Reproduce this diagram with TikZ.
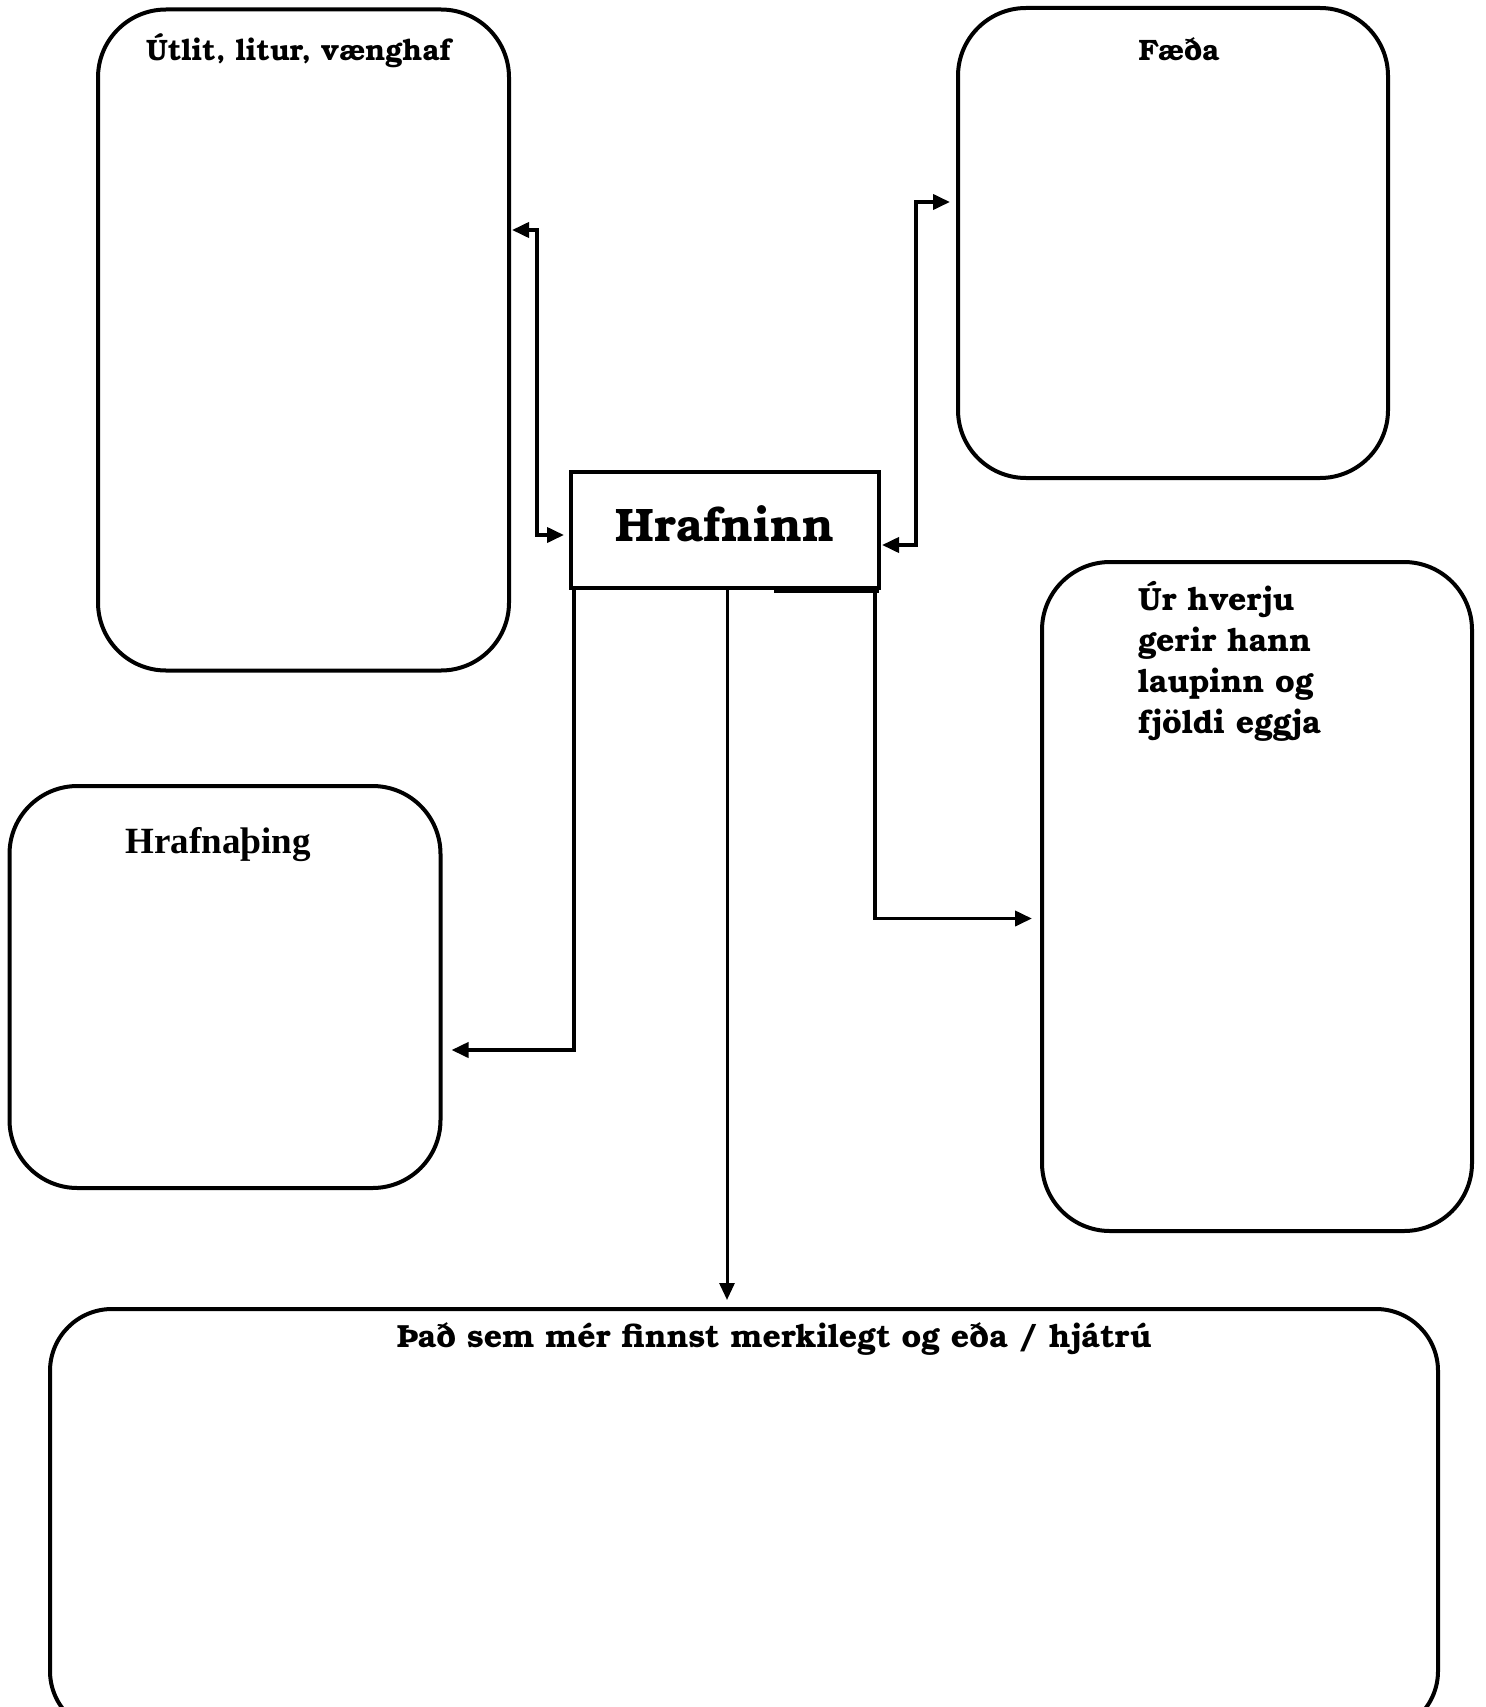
\documentclass[tikz,border=0pt]{standalone}
\usepackage{fontspec}
\setmainfont{texgyrebonum}[Extension=.otf, UprightFont=*-regular, BoldFont=*-bold]
\newfontfamily\thingfont{Liberation Serif}
\usetikzlibrary{arrows.meta}
\usetikzlibrary{positioning}

\tikzset{
    card/.style={rectangle, draw=black, line width=4pt, rounded corners=68pt, inner sep=0pt, outer sep=0pt},
    mainbox/.style={rectangle, draw=black, line width=4pt, inner sep=0pt, outer sep=0pt, font=\bfseries\fontsize{47}{50}\selectfont},
    title/.style={inner sep=0pt, font=\bfseries\fontsize{32}{41}\selectfont},
    smalltitle/.style={inner sep=0pt, font=\bfseries\fontsize{29.5}{36}\selectfont},
    link/.style={line width=3.8pt, -{Triangle[length=17pt, width=15pt]}},
    twolink/.style={line width=3.8pt, {Triangle[length=17pt, width=15pt]}-{Triangle[length=17pt, width=15pt]}}
}

\begin{document}
\begin{tikzpicture}[x=1pt, y=-1pt]
    \useasboundingbox (0,0) rectangle (1485,1707);

    \node [mainbox, minimum width=308pt, minimum height=116pt, text depth=13pt] (hrafninn) at (725,530) {Hrafninn};

    \node [card, minimum width=411pt, minimum height=661pt] (utlit) at (303.5,340) {};
    \node [card, minimum width=430pt, minimum height=470pt] (faeda) at (1173,243) {};
    \node [card, minimum width=430pt, minimum height=669pt] (laupur) at (1257,896.5) {};
    \node [card, minimum width=431pt, minimum height=402pt] (thing) at (225,987) {};
    \node [card, minimum width=1388pt, minimum height=424pt, rounded corners=62pt] (merk) at (744,1521) {};

    \node [smalltitle, anchor=base] (utlit_title) at ([xshift=-5pt, yshift=-51pt] utlit.north) {Útlit, litur, vænghaf};
    \node [smalltitle, anchor=base] (faeda_title) at ([xshift=6pt, yshift=-53pt] faeda.north) {Fæða};
    \node [title, anchor=base, font=\thingfont\bfseries\fontsize{37}{40}\selectfont] (thing_title) at ([xshift=-7pt, yshift=-67pt] thing.north) {Hrafnaþing};
    \node [title, anchor=north west, align=left] (laupur_title) at ([xshift=96pt, yshift=-19pt] laupur.north west) {Úr hverju\\gerir hann\\laupinn og\\fjöldi eggja};
    \node [title, anchor=base] (merk_title) at ([xshift=30pt, yshift=-38pt] merk.north) {Það sem mér finnst merkilegt og eða / hjátrú};

    \draw [twolink] ([xshift=3pt, yshift=110pt] utlit.east) -- ++(25,0) |- ([xshift=-7pt, yshift=-5pt] hrafninn.west);
    \draw [twolink] ([xshift=3pt, yshift=-15pt] hrafninn.east) -- ++(34,0) |- ([xshift=-8pt, yshift=41pt] faeda.west);
    \draw [link] ([xshift=3pt] hrafninn.south west) |- ([xshift=11pt, yshift=-63pt] thing.east);
    \draw [link] ([xshift=-4pt] hrafninn.south east) |- ([xshift=-10pt, yshift=-22pt] laupur.west);
    \draw [link, line width=3pt] ([xshift=2pt] hrafninn.south) -- ([xshift=2pt, yshift=9pt] hrafninn.south |- merk.north);
    % double stroke under the right end of the box
    \draw [line width=4pt] ([xshift=49pt, yshift=-3pt] hrafninn.south) -- ([yshift=-3pt] hrafninn.south east);
\end{tikzpicture}
\end{document}
